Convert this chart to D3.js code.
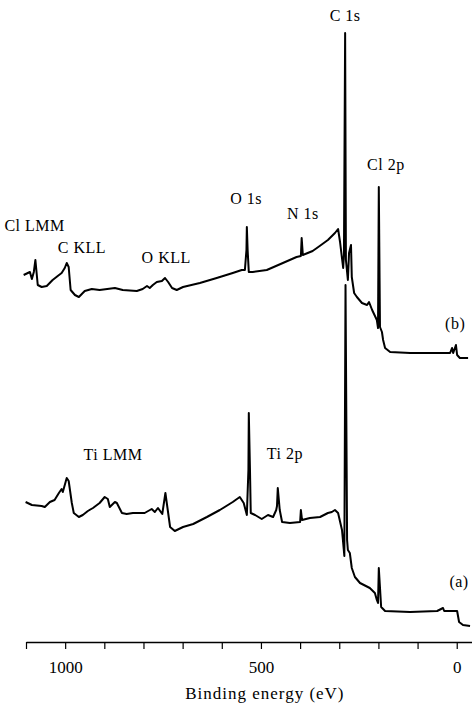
<!DOCTYPE html>
<html>
<head>
<meta charset="utf-8">
<script src="https://cdn.jsdelivr.net/npm/d3@7"></script>
<style>
  html, body { margin: 0; padding: 0; background: #fff; }
  svg text { font-family: "Liberation Serif", "DejaVu Serif", serif; fill: #000; }
</style>
</head>
<body>
<svg id="chart" width="472" height="704"></svg>
<script>
// XPS survey spectra, binding energy (eV) vs intensity (a.u.)
var spectrumB = [
  [1106, 367], [1090, 370], [1085, 363], [1080, 370], [1076, 382], [1070, 357], [1060, 355],
  [1047, 356], [1032, 362], [1019, 366], [1009, 369], [1001, 374], [996, 379], [991, 375],
  [986, 352], [975, 347], [965, 345], [950, 351], [932, 353], [912, 352], [873, 354],
  [853, 352], [817, 351], [802, 353], [791, 356], [784, 354], [776, 357], [766, 360],
  [753, 361], [745, 364], [737, 360], [727, 354], [715, 352], [699, 355], [656, 359],
  [613, 364], [572, 369], [549, 372], [541, 372], [537, 392], [536, 415], [534, 392],
  [531, 370], [521, 370], [485, 372], [444, 379], [409, 385], [398, 386], [396, 404],
  [393, 387], [368, 391], [350, 396], [329, 402], [311, 409], [303, 413], [298, 400],
  [290, 374], [288, 387], [285, 609], [283, 382], [278, 362], [275, 389], [270, 397],
  [268, 365], [262, 349], [255, 345], [242, 339], [229, 337], [224, 340], [216, 332],
  [204, 322], [201, 314], [199, 455], [196, 315], [191, 310], [188, 302], [183, 294],
  [170, 290], [119, 289], [17, 289], [12, 294], [9, 289], [2, 297], [-1, 287],
  [-8, 284], [-29, 284]
];

var spectrumA = [
  [1101, 140], [1085, 137], [1060, 136], [1052, 135], [1039, 140], [1027, 142], [1016, 149],
  [1009, 153], [1006, 150], [996, 164], [991, 161], [983, 139], [978, 129], [965, 125],
  [955, 127], [942, 131], [929, 134], [912, 139], [899, 145], [891, 143], [886, 135],
  [873, 140], [868, 139], [855, 129], [843, 128], [827, 129], [797, 129], [779, 133],
  [771, 130], [763, 134], [752, 128], [744, 149], [738, 132], [732, 115], [720, 111],
  [699, 115], [673, 118], [638, 125], [605, 132], [572, 140], [554, 145], [544, 139],
  [536, 127], [532, 172], [531, 229], [528, 172], [526, 129], [515, 127], [498, 123],
  [482, 127], [469, 125], [461, 132], [459, 136], [457, 154], [452, 132], [446, 120],
  [426, 119], [400, 120], [398, 132], [395, 122], [375, 124], [349, 125], [329, 129],
  [319, 130], [311, 132], [303, 129], [293, 112], [287, 86], [284, 357], [280, 102],
  [278, 92], [273, 89], [268, 74], [260, 65], [247, 59], [222, 54], [209, 49],
  [204, 42], [201, 39], [199, 74], [193, 35], [183, 31], [119, 30], [50, 31],
  [35, 34], [32, 31], [-1, 31], [-6, 20], [-16, 17], [-34, 16]
];

var tickValues = [1100, 1000, 900, 800, 700, 600, 500, 400, 300, 200, 100, 0];
var tickLabels = ['1000', '500', '0'];

var peakLabels = [
  ['C 1s', 285, 621], ['Cl 2p', 181, 472], ['O 1s', 538, 438], ['N 1s', 393, 423],
  ['(b)', 4, 313], ['Cl LMM', 1078, 411], ['C KLL', 957, 389], ['O KLL', 742, 379],
  ['Ti LMM', 878, 182], ['Ti 2p', 439, 183], ['(a)', -6, 55]
];

var svg = d3.select('#chart');

var x = d3.scaleLinear().domain([1100, -39]).range([26, 472]);
var y = d3.scaleLinear().domain([0, 620]).range([642, 22]);

var line = d3.line()
  .x(function(d) { return x(d[0]); })
  .y(function(d) { return y(d[1]); });

[spectrumB, spectrumA].forEach(function(s) {
  svg.append('path')
    .datum(s)
    .attr('fill', 'none')
    .attr('stroke', '#000')
    .attr('stroke-width', 2)
    .attr('stroke-linejoin', 'round')
    .attr('d', line);
});

var axis = svg.append('g')
  .attr('transform', 'translate(0,' + y(0) + ')')
  .call(d3.axisBottom(x)
    .tickValues(tickValues)
    .tickSize(7)
    .tickSizeOuter(0)
    .tickFormat(function(d) { return tickLabels.indexOf(String(d)) >= 0 ? d : ''; }));

axis.attr('font-family', '"Liberation Serif", serif');
axis.select('.domain').attr('stroke-width', 1.6);
axis.selectAll('.tick line').attr('stroke-width', 1.2);
axis.selectAll('.tick text')
  .attr('font-size', 17)
  .attr('dy', '1.25em');

svg.append('text')
  .attr('x', x(490))
  .attr('y', 699)
  .attr('text-anchor', 'middle')
  .attr('font-size', 17)
  .attr('letter-spacing', 1)
  .text('Binding energy (eV)');

svg.selectAll('.peak')
  .data(peakLabels)
  .enter().append('text')
  .attr('class', 'peak')
  .attr('x', function(d) { return x(d[1]); })
  .attr('y', function(d) { return y(d[2]); })
  .attr('text-anchor', 'middle')
  .attr('font-size', 16)
  .attr('letter-spacing', 0.5)
  .text(function(d) { return d[0]; });
</script>
</body>
</html>
